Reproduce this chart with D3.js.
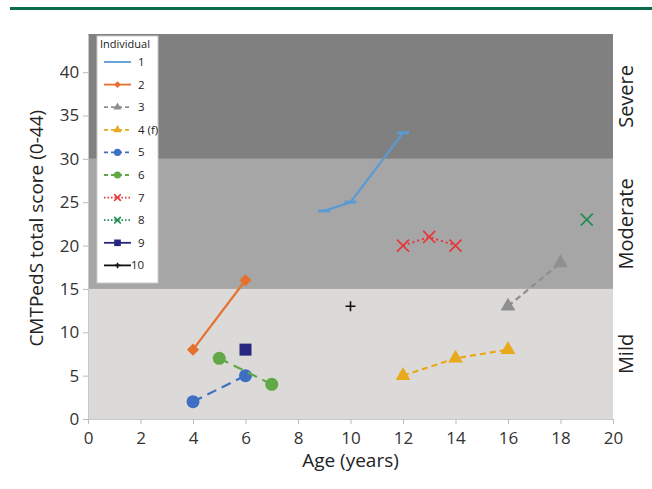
<!DOCTYPE html>
<html>
<head>
<meta charset="utf-8">
<script src="https://cdn.jsdelivr.net/npm/d3@7"></script>
<style>
  body { margin: 0; background: #fff; }
  svg { font-family: "Open Sans", "Noto Sans", sans-serif; }
</style>
</head>
<body>
<div id="chart"></div>
<script>
// data
var individuals = ["1", "2", "3", "4 (f)", "5", "6", "7", "8", "9", "10"];
var ages = [
  [9, 10, 12],
  [4, 6],
  [16, 18],
  [12, 14, 16],
  [4, 6],
  [5, 7],
  [12, 13, 14],
  [19],
  [6],
  [10]
];
var scores = [
  [24, 25, 33],
  [8, 16],
  [13, 18],
  [5, 7, 8],
  [2, 5],
  [7, 4],
  [20, 21, 20],
  [23],
  [8],
  [13]
];
var colors = ["#5b9bd5", "#e5712f", "#8f8f8f", "#e8a91c", "#3f6fc2", "#62a846", "#e8353a", "#1f8c50", "#27277f", "#111111"];
var markers = ["dash", "diamond", "triangle", "triangle", "circle", "circle", "cross", "cross", "square", "plus"];
var dashes = [null, null, "6,4", "6,4", "10,6", "10,6", "2,3", "2,3", null, null];
var bands = [
  { name: "Mild", from: 0, to: 15, fill: "#dcdad8" },
  { name: "Moderate", from: 15, to: 30, fill: "#a6a6a6" },
  { name: "Severe", from: 30, to: 44.4, fill: "#808080" }
];
var xTicks = d3.range(0, 21, 2);
var yTicks = d3.range(0, 41, 5);

var W = 652, H = 489;
var margin = { top: 34, right: 39, bottom: 70, left: 88 };

var svg = d3.select("#chart").append("svg")
  .attr("width", W).attr("height", H);

// green rule at the top
svg.append("rect").attr("x", 10).attr("y", 7).attr("width", W - 10).attr("height", 3).attr("fill", "#0b6b4a");

var x = d3.scaleLinear().domain([0, 20]).range([margin.left, W - margin.right]);
var y = d3.scaleLinear().domain([0, 44.4]).range([H - margin.bottom, margin.top]);

// severity bands
svg.selectAll("rect.band").data(bands).enter().append("rect")
  .attr("class", "band")
  .attr("x", x(0))
  .attr("width", x(20) - x(0))
  .attr("y", function(d) { return y(d.to); })
  .attr("height", function(d) { return y(d.from) - y(d.to); })
  .attr("fill", function(d) { return d.fill; });

svg.selectAll("text.bandlabel").data(bands).enter().append("text")
  .attr("class", "bandlabel")
  .attr("transform", function(d) {
    return "translate(" + (x(20) + 20) + "," + y((d.from + d.to) / 2) + ") rotate(-90)";
  })
  .attr("text-anchor", "middle")
  .style("font-size", "20px")
  .attr("fill", "#222")
  .text(function(d) { return d.name; });

// axes
var xAxis = svg.append("g")
  .attr("transform", "translate(0," + y(0) + ")")
  .call(d3.axisBottom(x).tickValues(xTicks).tickSize(5).tickSizeOuter(0));
var yAxis = svg.append("g")
  .attr("transform", "translate(" + x(0) + ",0)")
  .call(d3.axisLeft(y).tickValues(yTicks).tickSize(5).tickSizeOuter(0));
[xAxis, yAxis].forEach(function(g) {
  g.select(".domain").attr("stroke", "#c8c8c8");
  g.selectAll(".tick line").attr("stroke", "#bbb");
  g.selectAll(".tick text").style("font-size", "17px").attr("fill", "#333").style("font-family", "'Open Sans', sans-serif");
});
xAxis.selectAll(".tick text").attr("dy", "1.0em");
yAxis.selectAll(".tick text").attr("dx", "-0.05em");

svg.append("text")
  .attr("x", (x(0) + x(20)) / 2).attr("y", H - 22)
  .attr("text-anchor", "middle")
  .style("font-size", "19px").attr("fill", "#222")
  .text("Age (years)");

svg.append("text")
  .attr("transform", "translate(43," + y(22) + ") rotate(-90)")
  .attr("text-anchor", "middle")
  .style("font-size", "19px").attr("fill", "#222")
  .text("CMTPedS total score (0-44)");

// marker drawing
function drawMarker(g, type, color, cx, cy, scale) {
  scale = scale || 1;
  if (type === "circle") {
    g.append("circle").attr("cx", cx).attr("cy", cy).attr("r", 6.5 * scale).attr("fill", color);
  } else if (type === "square") {
    var s = 12 * scale;
    g.append("rect").attr("x", cx - s / 2).attr("y", cy - s / 2).attr("width", s).attr("height", s).attr("fill", color);
  } else if (type === "diamond") {
    g.append("path").attr("d", d3.symbol().type(d3.symbolDiamond2).size(95 * scale * scale)())
      .attr("transform", "translate(" + cx + "," + cy + ")").attr("fill", color);
  } else if (type === "triangle") {
    g.append("path").attr("d", d3.symbol().type(d3.symbolTriangle).size(95 * scale * scale)()).attr("transform", "translate(" + cx + "," + cy + ")").attr("fill", color);
  } else if (type === "cross") {
    var r = 6 * scale;
    g.append("path").attr("d", "M" + (cx - r) + "," + (cy - r) + "L" + (cx + r) + "," + (cy + r) + "M" + (cx - r) + "," + (cy + r) + "L" + (cx + r) + "," + (cy - r))
      .attr("stroke", color).attr("stroke-width", 1.6).attr("fill", "none");
  } else if (type === "plus") {
    var p = 5 * scale;
    g.append("path").attr("d", "M" + (cx - p) + "," + cy + "L" + (cx + p) + "," + cy + "M" + cx + "," + (cy - p) + "L" + cx + "," + (cy + p))
      .attr("stroke", color).attr("stroke-width", 1.6).attr("fill", "none");
  } else if (type === "dash") {
    g.append("path").attr("d", "M" + (cx - 6 * scale) + "," + cy + "L" + (cx + 6 * scale) + "," + cy)
      .attr("stroke", color).attr("stroke-width", 3).attr("fill", "none");
  }
}

var line = d3.line().x(function(d) { return x(d[0]); }).y(function(d) { return y(d[1]); });

individuals.forEach(function(name, i) {
  var pts = ages[i].map(function(a, j) { return [a, scores[i][j]]; });
  var g = svg.append("g");
  if (pts.length > 1) {
    g.append("path").datum(pts)
      .attr("d", line)
      .attr("fill", "none")
      .attr("stroke", colors[i])
      .attr("stroke-width", markers[i] === "cross" ? 2 : 2.2)
      .attr("stroke-dasharray", dashes[i]);
  }
  pts.forEach(function(p) { drawMarker(g, markers[i], colors[i], x(p[0]), y(p[1]), 1); });
});

// legend
var lg = svg.append("g");
lg.append("rect").attr("x", 97).attr("y", 36).attr("width", 61).attr("height", 247)
  .attr("fill", "#fff").attr("stroke", "#ccc");
lg.append("text").attr("x", 100).attr("y", 48).style("font-size", "11px").attr("fill", "#222").text("Individual");
individuals.forEach(function(name, i) {
  var ly = 62 + i * 22.6;
  lg.append("path").attr("d", "M104," + ly + "L131," + ly)
    .attr("stroke", colors[i]).attr("stroke-width", 1.8).attr("fill", "none")
    .attr("stroke-dasharray", dashes[i] ? (markers[i] === "cross" ? "1.5,2" : "4,3") : null);
  if (markers[i] !== "dash") drawMarker(lg, markers[i], colors[i], 117.5, ly, 0.55);
  lg.append("text").attr("x", i === 9 ? 131 : 138).attr("y", ly + 4).style("font-size", "11.5px").attr("fill", "#222").text(name);
});
</script>
</body>
</html>
